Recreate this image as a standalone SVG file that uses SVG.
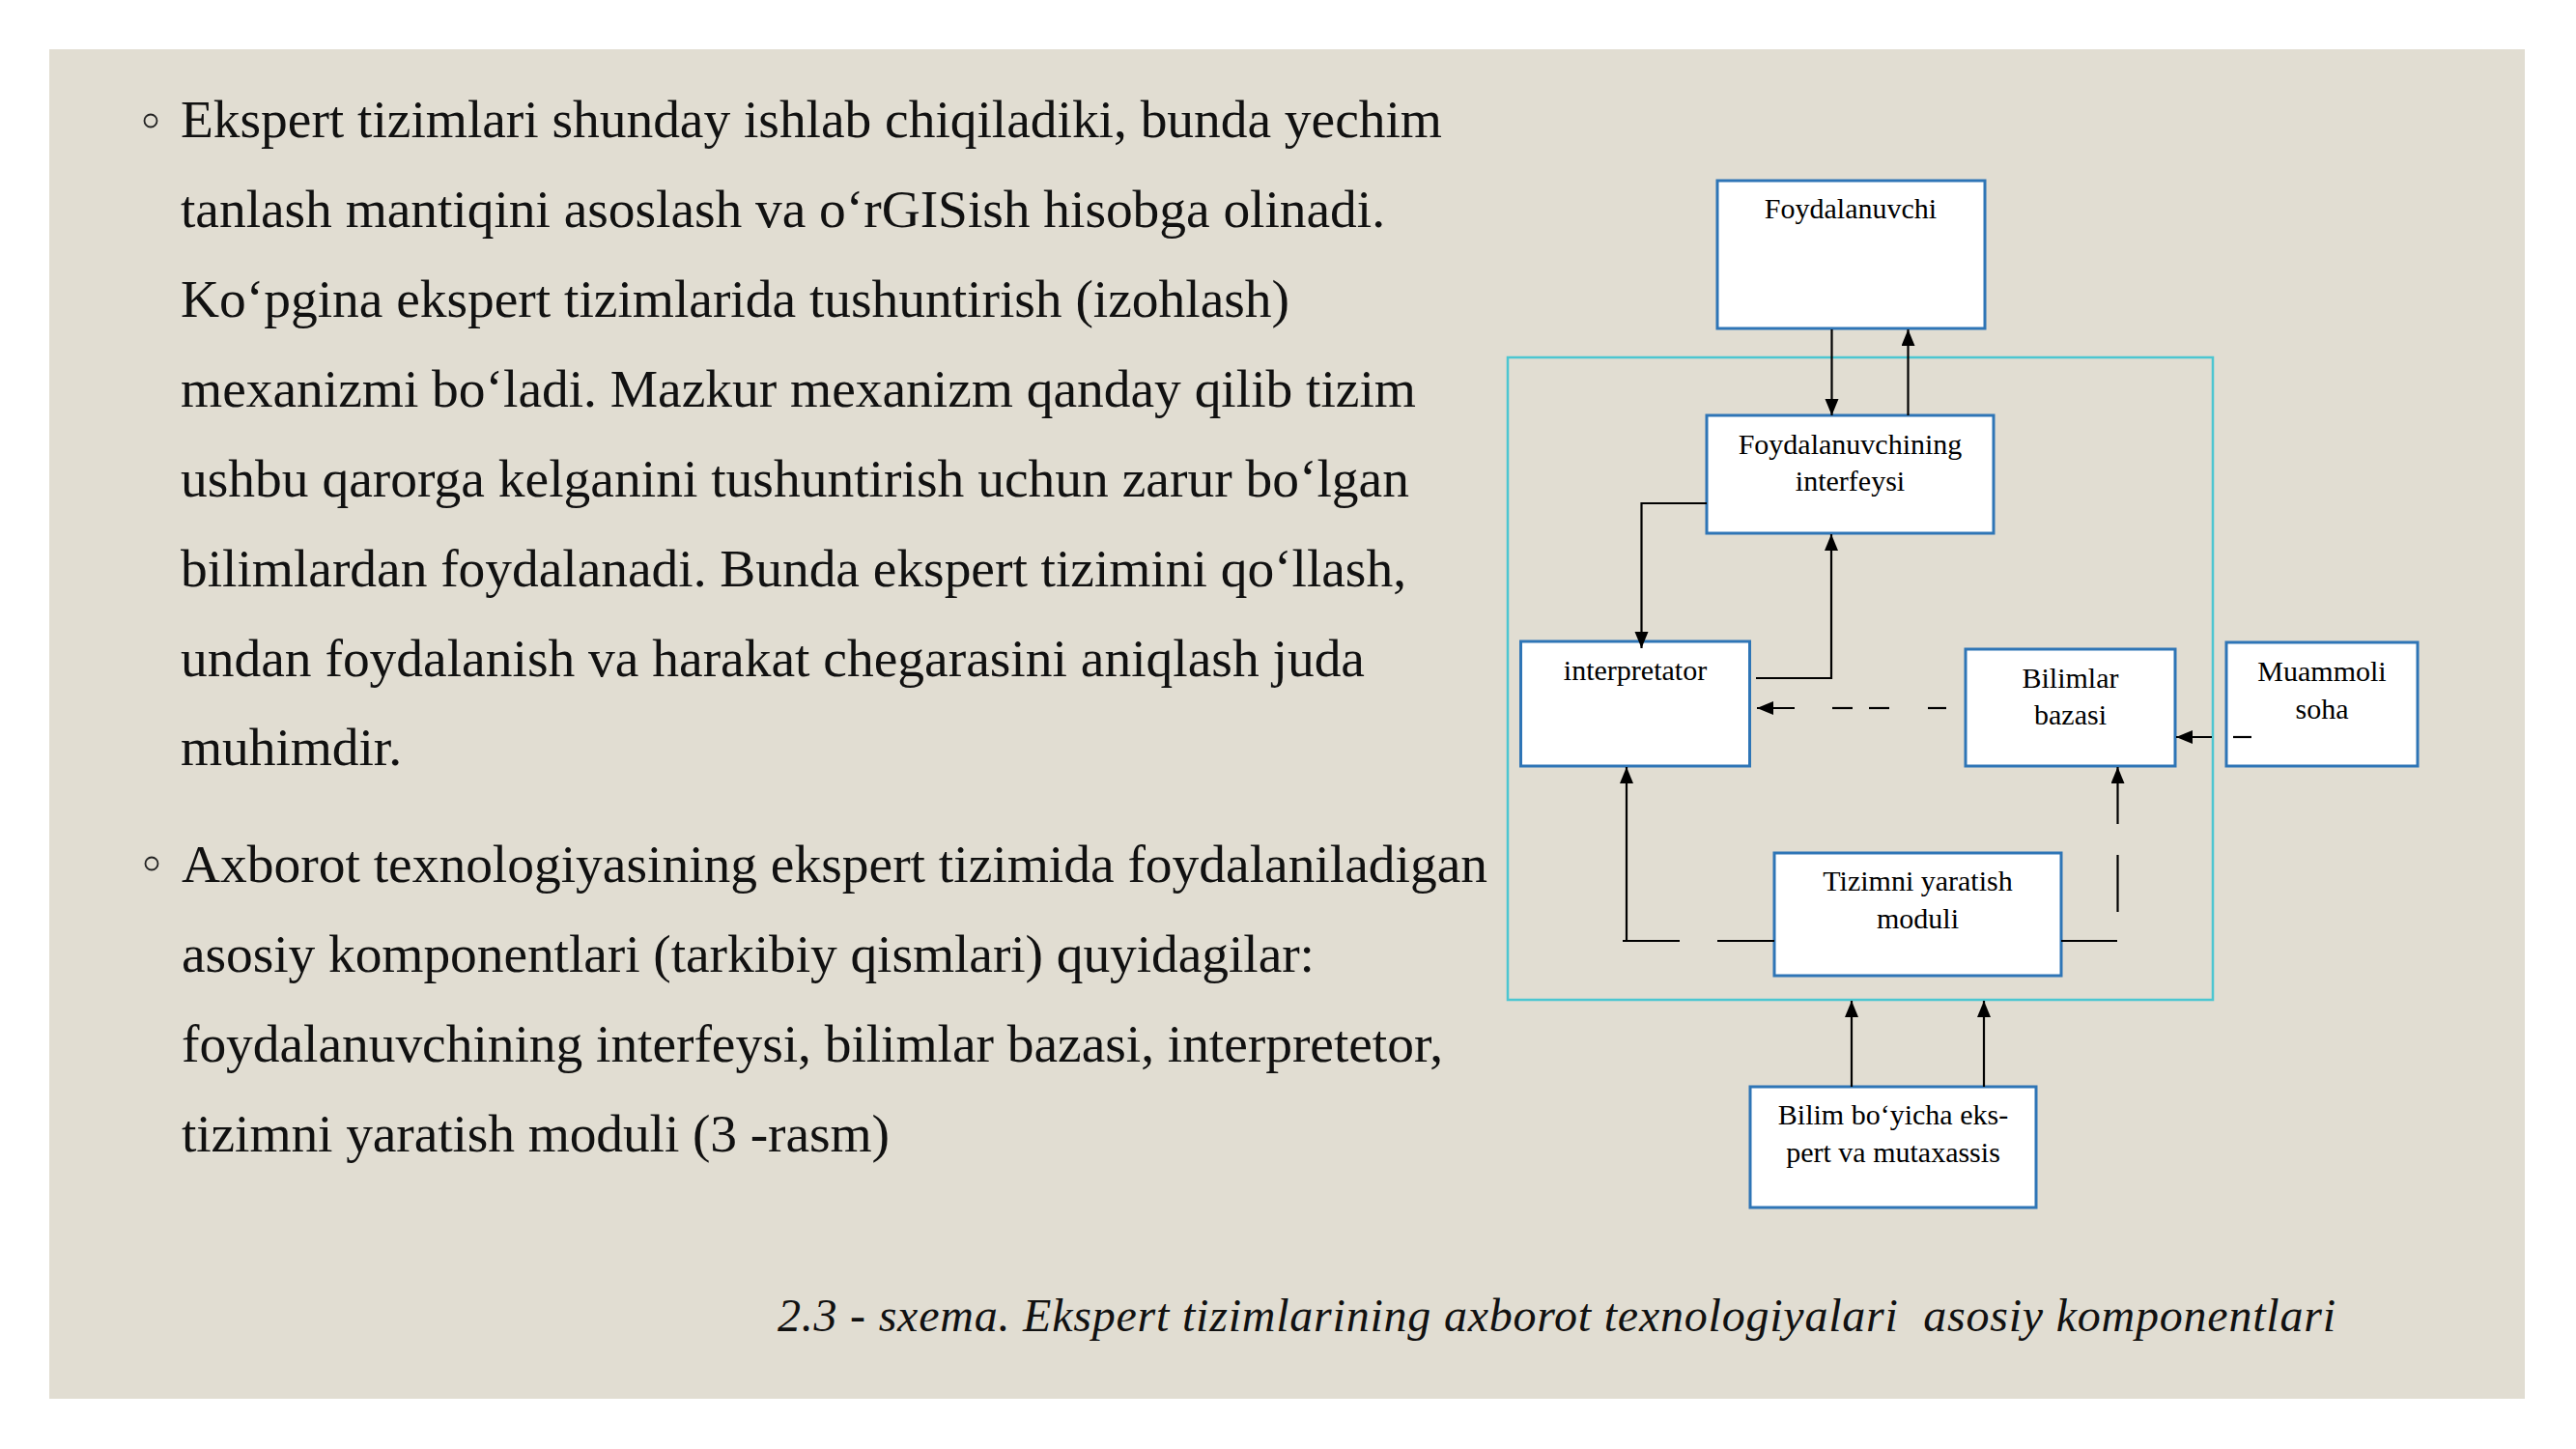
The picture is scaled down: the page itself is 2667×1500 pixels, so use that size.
<svg xmlns="http://www.w3.org/2000/svg" width="2667" height="1500" viewBox="0 0 2667 1500">
<style>
.body{font-family:"Liberation Serif","Times New Roman",serif;font-size:55.5px;fill:#111;}
.lbl{font-family:"Liberation Serif","Times New Roman",serif;font-size:30px;fill:#000;text-anchor:middle;}
.cap{font-family:"Liberation Serif","Times New Roman",serif;font-size:48px;font-style:italic;fill:#111;}
.box{fill:#fff;stroke:#2E75B6;stroke-width:3;}
.ln{fill:none;stroke:#000;stroke-width:2.2;}
.bul{fill:none;stroke:#222;stroke-width:1.8;}
</style>
<defs>
<marker id="ah" markerUnits="userSpaceOnUse" markerWidth="18" markerHeight="16" refX="17" refY="7" orient="auto">
<path d="M0,0 L17,7 L0,14 z" fill="#000"/>
</marker>
</defs>
<rect x="0" y="0" width="2667" height="1500" fill="#fff"/>
<rect x="51" y="51" width="2563" height="1397" fill="#E1DDD2"/>

<g id="text-para1">
<circle class="bul" cx="156" cy="125" r="6.5"/>
<text class="body" x="187" y="142" textLength="1306">Ekspert tizimlari shunday ishlab chiqiladiki, bunda yechim</text>
<text class="body" x="187" y="235" textLength="1247">tanlash mantiqini asoslash va o‘rGISish hisobga olinadi.</text>
<text class="body" x="187" y="328" textLength="1148">Ko‘pgina ekspert tizimlarida tushuntirish (izohlash)</text>
<text class="body" x="187" y="421" textLength="1279">mexanizmi bo‘ladi. Mazkur mexanizm qanday qilib tizim</text>
<text class="body" x="187" y="514" textLength="1272">ushbu qarorga kelganini tushuntirish uchun zarur bo‘lgan</text>
<text class="body" x="187" y="607" textLength="1269">bilimlardan foydalanadi. Bunda ekspert tizimini qo‘llash,</text>
<text class="body" x="187" y="700" textLength="1226">undan foydalanish va harakat chegarasini aniqlash juda</text>
<text class="body" x="187" y="792" textLength="229">muhimdir.</text>
</g>
<g id="text-para2">
<circle class="bul" cx="157" cy="894" r="6.5"/>
<text class="body" x="188" y="913" textLength="1352">Axborot texnologiyasining ekspert tizimida foydalaniladigan</text>
<text class="body" x="188" y="1006" textLength="1173">asosiy komponentlari (tarkibiy qismlari) quyidagilar:</text>
<text class="body" x="188" y="1099" textLength="1306">foydalanuvchining interfeysi, bilimlar bazasi, interpretetor,</text>
<text class="body" x="188" y="1192" textLength="733">tizimni yaratish moduli (3 -rasm)</text>
</g>

<g id="frame">
<rect x="1561" y="370" width="730" height="665" fill="none" stroke="#4CC6D1" stroke-width="2.5"/>
</g>

<g id="node-foydalanuvchi">
<rect class="box" x="1778" y="187" width="277" height="153"/>
<text class="lbl" x="1916" y="226">Foydalanuvchi</text>
</g>
<g id="node-interfeys">
<rect class="box" x="1767" y="430" width="297" height="122"/>
<text class="lbl" x="1915.5" y="470">Foydalanuvchining</text>
<text class="lbl" x="1915.5" y="508">interfeysi</text>
</g>
<g id="node-interpretator">
<rect class="box" x="1574.5" y="664" width="237" height="129"/>
<text class="lbl" x="1693" y="704">interpretator</text>
</g>
<g id="node-bilimlar">
<rect class="box" x="2035" y="672" width="217" height="121"/>
<text class="lbl" x="2143.5" y="712">Bilimlar</text>
<text class="lbl" x="2143.5" y="750">bazasi</text>
</g>
<g id="node-muammoli">
<rect class="box" x="2305" y="665" width="198" height="128"/>
<text class="lbl" x="2404" y="705">Muammoli</text>
<text class="lbl" x="2404" y="744">soha</text>
</g>
<g id="node-tizimni">
<rect class="box" x="1837" y="883" width="297" height="127"/>
<text class="lbl" x="1985.5" y="922">Tizimni yaratish</text>
<text class="lbl" x="1985.5" y="961">moduli</text>
</g>
<g id="node-bilim-ekspert">
<rect class="box" x="1812" y="1125" width="296" height="125"/>
<text class="lbl" x="1960" y="1164">Bilim bo‘yicha eks-</text>
<text class="lbl" x="1960" y="1203">pert va mutaxassis</text>
</g>

<g id="connectors">
<line class="ln" x1="1896.5" y1="341" x2="1896.5" y2="430" marker-end="url(#ah)"/>
<line class="ln" x1="1975.5" y1="430" x2="1975.5" y2="341" marker-end="url(#ah)"/>
<polyline class="ln" points="1767,521 1699.5,521 1699.5,671" marker-end="url(#ah)"/>
<polyline class="ln" points="1818,702 1896,702 1896,553" marker-end="url(#ah)"/>
<line class="ln" x1="1858" y1="733" x2="1819" y2="733" marker-end="url(#ah)"/>
<line class="ln" x1="1897" y1="733" x2="1918" y2="733"/>
<line class="ln" x1="1935" y1="733" x2="1956" y2="733"/>
<line class="ln" x1="1996" y1="733" x2="2015" y2="733"/>
<line class="ln" x1="2290" y1="763" x2="2253" y2="763" marker-end="url(#ah)"/>
<line class="ln" x1="2312" y1="763" x2="2331" y2="763"/>
<line class="ln" x1="1837" y1="974" x2="1778" y2="974"/>
<line class="ln" x1="1739" y1="974" x2="1680" y2="974"/>
<line class="ln" x1="1684" y1="974" x2="1684" y2="794" marker-end="url(#ah)"/>
<line class="ln" x1="2134" y1="974" x2="2192" y2="974"/>
<line class="ln" x1="2192.5" y1="944" x2="2192.5" y2="885"/>
<line class="ln" x1="2192.5" y1="853" x2="2192.5" y2="794" marker-end="url(#ah)"/>
<line class="ln" x1="1917" y1="1125" x2="1917" y2="1036" marker-end="url(#ah)"/>
<line class="ln" x1="2054" y1="1125" x2="2054" y2="1036" marker-end="url(#ah)"/>
</g>

<g id="caption">
<text class="cap" x="805" y="1378" textLength="1613" xml:space="preserve">2.3 - sxema. Ekspert tizimlarining axborot texnologiyalari  asosiy komponentlari</text>
</g>
</svg>
